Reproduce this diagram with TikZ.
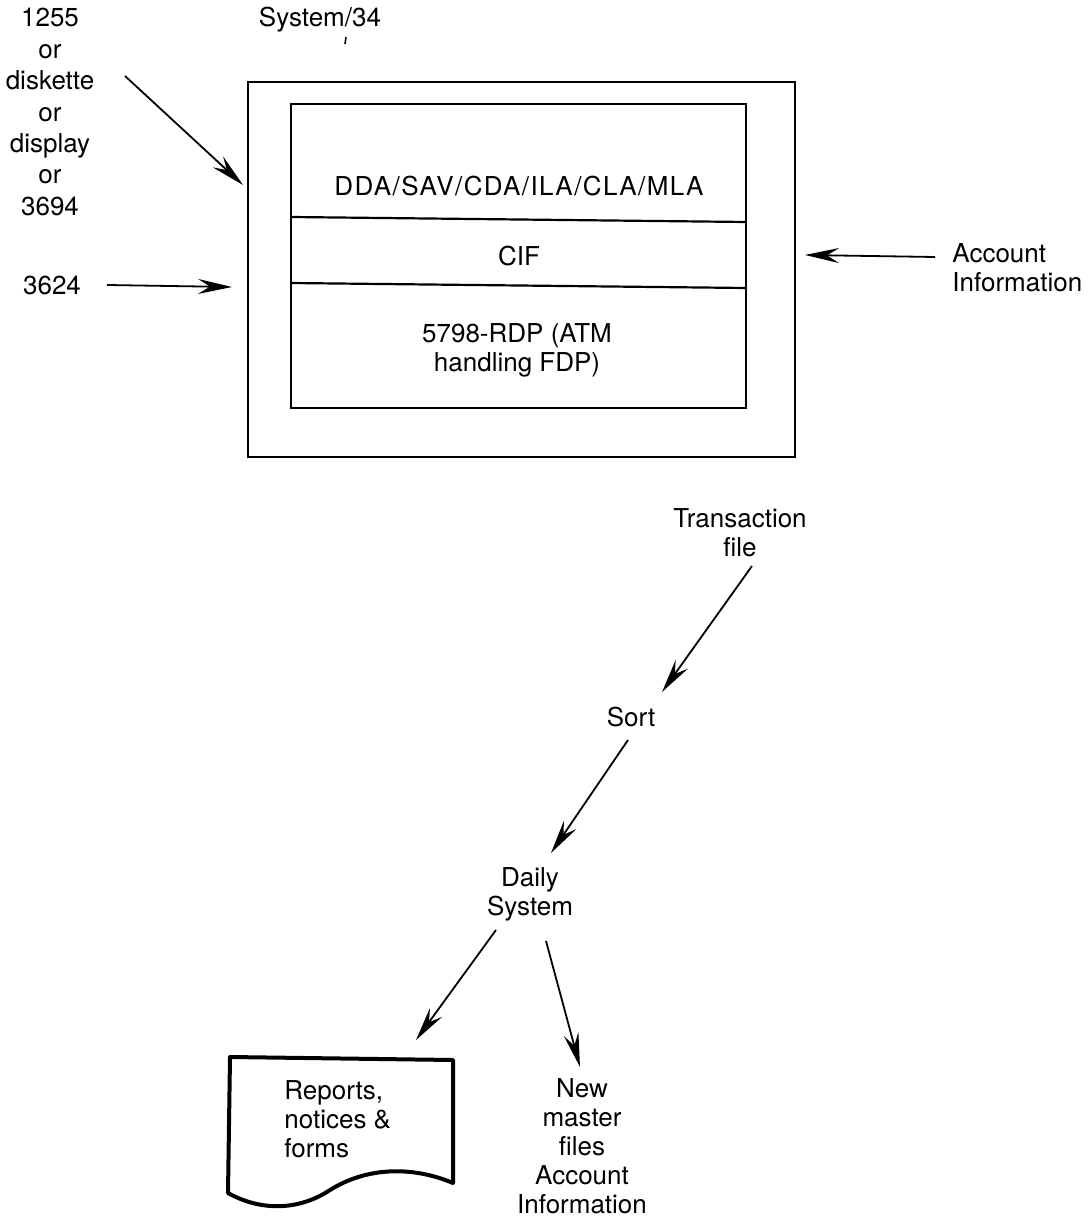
\documentclass[tikz,border=0pt]{standalone}
\usepackage{fontspec}
\setmainfont{TeX Gyre Heros}
\usetikzlibrary{arrows.meta}
\begin{document}
\begin{tikzpicture}[x=0.5pt,y=-0.5pt,
  lbl/.style={font=\fontsize{13}{14.5}\selectfont, align=center, inner sep=0pt},
  arr/.style={line width=0.9pt, -{Stealth[length=17pt,width=7.5pt,inset=6pt]}},
  frame/.style={draw, line width=1.1pt},
  docframe/.style={draw, line width=2pt, line join=round}]
\useasboundingbox (0,0) rectangle (1088,1218);

% System/34 box
\node[lbl] (sys) at (320,20) {System/34};
\draw[line width=0.8pt] (346,37) -- (345,44);
\draw[frame] (248,82) rectangle (795,457);
\draw[frame] (291,104) rectangle (746,408);
\draw[frame] (291,217) -- (746,222);
\draw[frame] (291,283) -- (746,288);
\node[lbl] (dda) at (519,186) {\addfontfeature{LetterSpace=5.5}DDA/SAV/CDA/ILA/CLA/MLA};
\node[lbl] (cif) at (519,256) {CIF};
\node[lbl] (rdp) at (517,350) {5798-RDP (ATM\\handling FDP)};

% inputs
\node[lbl, font=\fontsize{13}{15.7}\selectfont] (dev) at (50,112) {1255\\or\\diskette\\or\\display\\or\\3694};
\node[lbl] (t3624) at (52,285) {3624};
\node[lbl, align=left, anchor=west] (acct) at (952,268) {Account\\Information};

\coordinate (a1s) at (125,76);
\coordinate (a1e) at (243,185);
\coordinate (a2s) at (107,285);
\coordinate (a2e) at (232,287);
\coordinate (a3s) at (935,257);
\coordinate (a3e) at (805,255);
\draw[arr] (a1s) -- (a1e);
\draw[arr] (a2s) -- (a2e);
\draw[arr] (a3s) -- (a3e);

% flow
\node[lbl] (trans) at (740,533) {Transaction\\file};
\node[lbl] (sort) at (631,717) {Sort};
\node[lbl] (daily) at (530,894) {Daily\\System};
\coordinate (b1s) at (752,566);
\coordinate (b1e) at (662,692);
\coordinate (b2s) at (628,740);
\coordinate (b2e) at (551,853);
\coordinate (b3s) at (496,930);
\coordinate (b3e) at (416,1040);
\coordinate (b4s) at (546,941);
\coordinate (b4e) at (580,1067);
\draw[arr] (b1s) -- (b1e);
\draw[arr] (b2s) -- (b2e);
\draw[arr] (b3s) -- (b3e);
\draw[arr] (b4s) -- (b4e);

% document
\draw[docframe] (230,1057) -- (453,1060) -- (453,1183)
  .. controls (410,1165) and (365,1168) .. (330,1190)
  .. controls (300,1210) and (262,1212) .. (228,1193) -- cycle;
\node[lbl, align=left, anchor=west] (rep) at (284,1119) {Reports,\\notices \&\\forms};
\node[lbl] (newm) at (582,1146) {New\\master\\files\\Account\\Information};
\end{tikzpicture}
\end{document}
